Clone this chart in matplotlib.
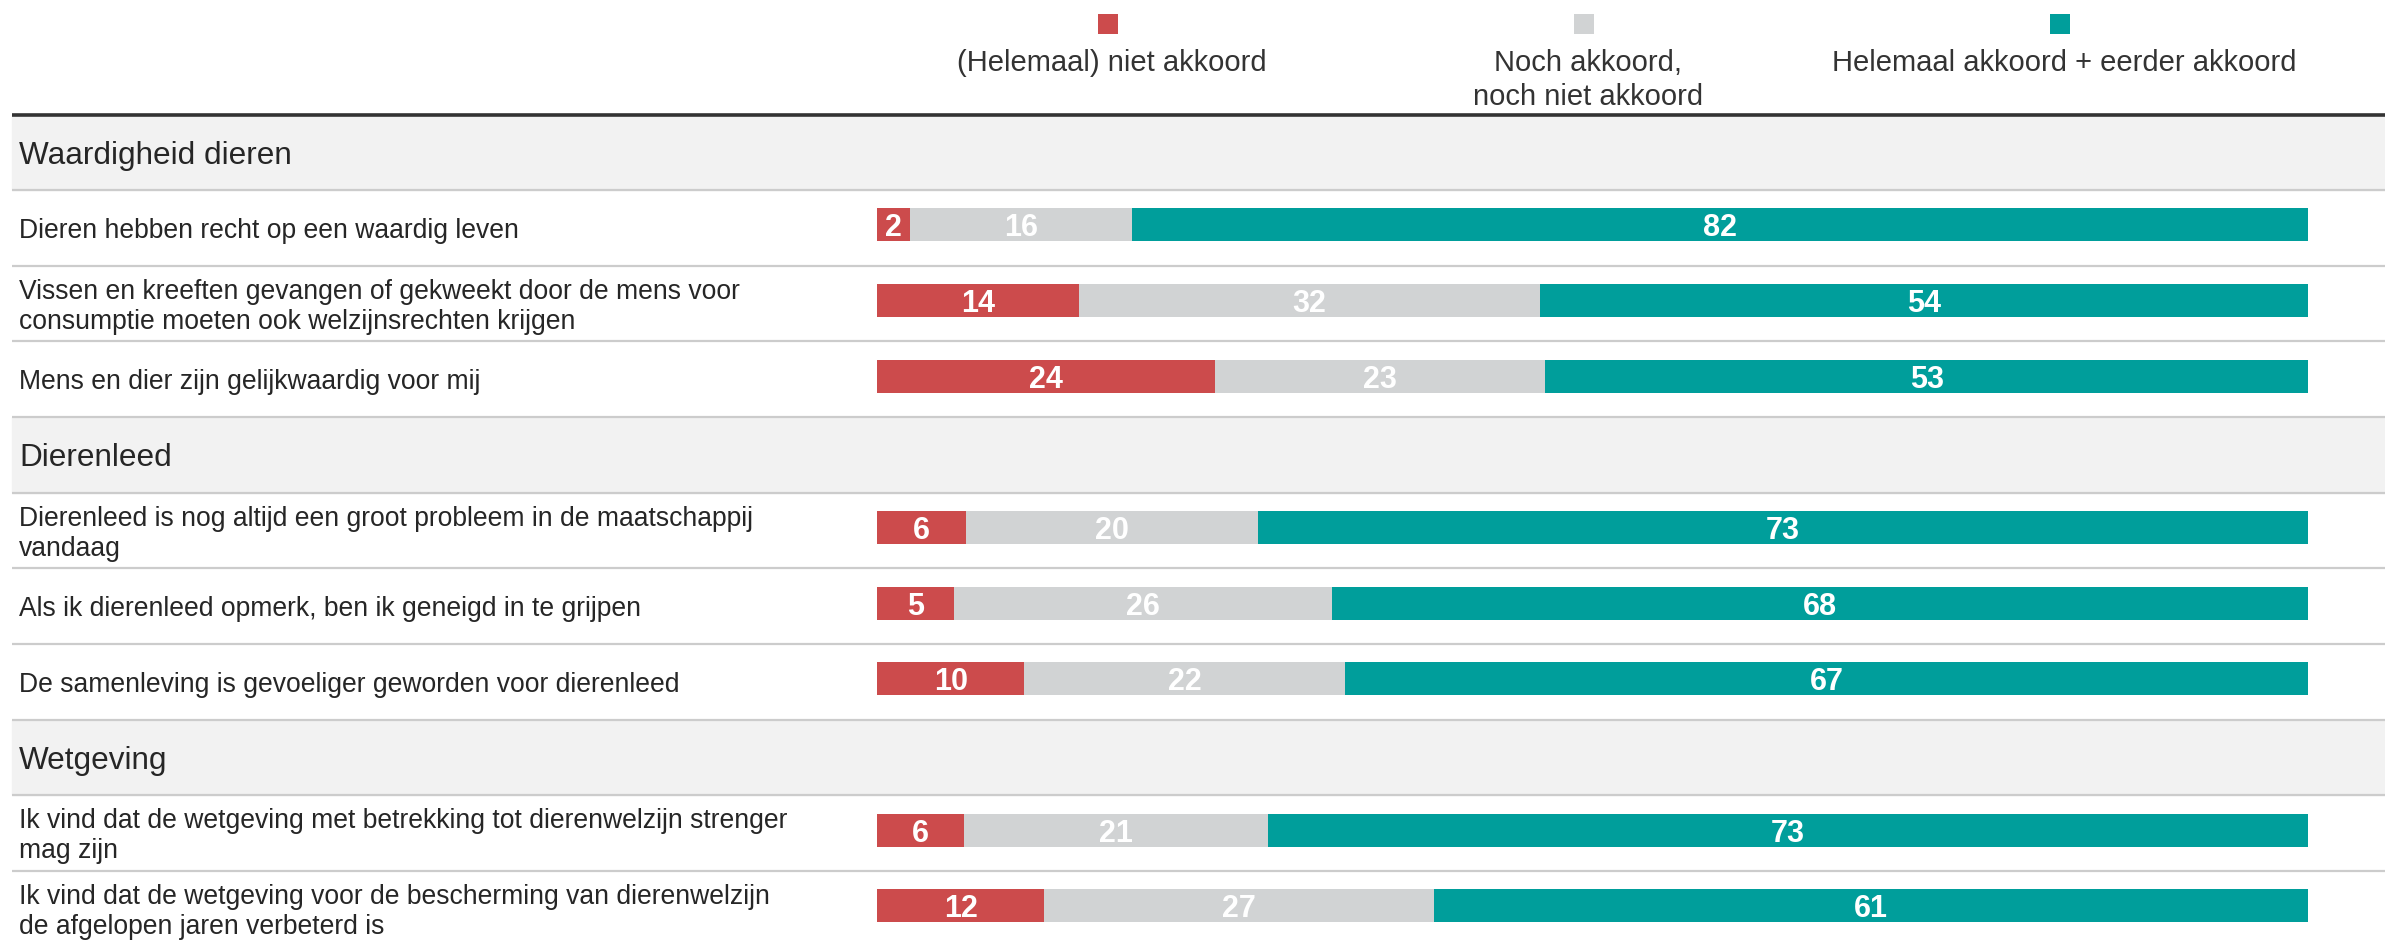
import matplotlib
matplotlib.use("Agg")
import matplotlib.pyplot as plt

plt.rcParams["font.family"] = ["Liberation Sans", "DejaVu Sans"]

# ---------------------------------------------------------------------------
# Data (percentages)
# ---------------------------------------------------------------------------
SECTIONS = ["Waardigheid dieren", "Dierenleed", "Wetgeving"]

STATEMENTS = [
    "Dieren hebben recht op een waardig leven",
    "Vissen en kreeften gevangen of gekweekt door de mens voor\n"
    "consumptie moeten ook welzijnsrechten krijgen",
    "Mens en dier zijn gelijkwaardig voor mij",
    "Dierenleed is nog altijd een groot probleem in de maatschappij\nvandaag",
    "Als ik dierenleed opmerk, ben ik geneigd in te grijpen",
    "De samenleving is gevoeliger geworden voor dierenleed",
    "Ik vind dat de wetgeving met betrekking tot dierenwelzijn strenger\nmag zijn",
    "Ik vind dat de wetgeving voor de bescherming van dierenwelzijn\n"
    "de afgelopen jaren verbeterd is",
]
STATEMENT_SECTION = [0, 0, 0, 1, 1, 1, 2, 2]

CATEGORIES = [
    "(Helemaal) niet akkoord",
    "Noch akkoord,\nnoch niet akkoord",
    "Helemaal akkoord + eerder akkoord",
]
DISAGREE = [2.3, 14.1, 23.6, 6.2, 5.4, 10.3, 6.1, 11.7]
NEUTRAL = [15.5, 32.2, 23.1, 20.4, 26.4, 22.4, 21.2, 27.2]
AGREE = [82.2, 53.7, 53.3, 73.4, 68.2, 67.3, 72.7, 61.1]

COLORS = ["#cc4b4c", "#d1d3d4", "#009e9b"]

# ---------------------------------------------------------------------------
# Layout (pixels of the 2385x941 canvas)
# ---------------------------------------------------------------------------
W, H, DPI = 2385, 941, 100
BAR_X0, BAR_X1 = 877, 2308
TOP_RULE = 114.5
BAND_H = 75.65
LINE_X0 = 12
TEXT_X = 19
PX_PER_PCT = (BAR_X1 - BAR_X0) / 100.0
LEGEND_X = [1108, 1584, 2060]


def px_x(px):
    return (px - BAR_X0) / PX_PER_PCT


def px_y(px):
    return (px - TOP_RULE) / BAND_H


fig = plt.figure(figsize=(W / DPI, H / DPI), dpi=DPI)
ax = fig.add_axes([0, 0, 1, 1])
ax.set_xlim(px_x(0), px_x(W))
ax.set_ylim(px_y(H), px_y(0))
ax.axis("off")

# band order: section header followed by its statements
bands = []
for s in range(len(SECTIONS)):
    bands.append(("header", s))
    for i, sec in enumerate(STATEMENT_SECTION):
        if sec == s:
            bands.append(("row", i))

x_left = px_x(LINE_X0)
x_right = px_x(W)
x_text = px_x(TEXT_X)

for b, (kind, idx) in enumerate(bands):
    center = b + 0.5
    if kind == "header":
        ax.axhspan(b, b + 1, xmin=LINE_X0 / W, xmax=1, color="#f2f2f2", zorder=0)
        ax.text(x_text, center, SECTIONS[idx], ha="left", va="center_baseline",
                fontsize=22.7, color="#262626")
    else:
        lines = STATEMENTS[idx].split("\n")
        n = len(lines)
        for k, line in enumerate(lines):
            y = center + (k - (n - 1) / 2) * 30 / BAND_H
            ax.text(x_text, y, line, ha="left", va="center_baseline",
                    fontsize=19.1, color="#262626")

    if b > 0:
        ax.hlines(b, x_left, x_right, color="#cccccc", linewidth=1.6, zorder=1)

ax.hlines(0, x_left, x_right, color="#333333", linewidth=2.6, zorder=2)

# stacked bars
row_band = {idx: b for b, (kind, idx) in enumerate(bands) if kind == "row"}
ys = [row_band[i] + 0.5 - 0.04 for i in range(len(STATEMENTS))]

series = [DISAGREE, NEUTRAL, AGREE]
for r in range(len(STATEMENTS)):
    total = sum(s[r] for s in series)
    left = 0.0
    for s, color in zip(series, COLORS):
        w = s[r] / total * 100
        ax.barh(ys[r], w, left=left, height=0.437, color=color, linewidth=0, zorder=3)
        ax.text(left + w / 2, ys[r], f"{s[r]:.0f}", ha="center", va="center_baseline",
                color="white", fontsize=22, fontweight="bold", zorder=4)
        left += w

# legend
for lx, label, color in zip(LEGEND_X, CATEGORIES, COLORS):
    ax.scatter([px_x(lx)], [px_y(24.2)], marker="s", s=228, color=color,
               linewidths=0, zorder=3, clip_on=False)
    for k, line in enumerate(label.split("\n")):
        ax.text(px_x(lx + 4), px_y(70.7 + 34.3 * k), line, ha="center", va="baseline",
                fontsize=21, color="#333333")

fig.savefig("out.png", dpi=DPI)
